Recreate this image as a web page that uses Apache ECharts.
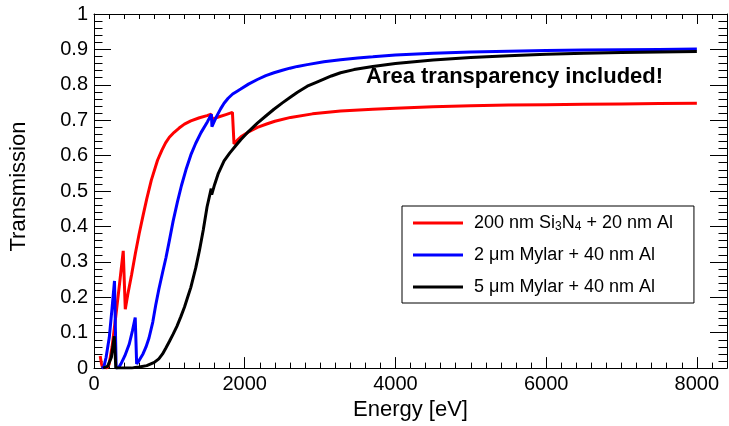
<!DOCTYPE html>
<html>
<head>
<meta charset="utf-8">
<script src="https://cdn.jsdelivr.net/npm/echarts@6/dist/echarts.min.js"></script>
<style>html,body{margin:0;padding:0;background:#fff}#c{width:729px;height:426px}</style>
</head>
<body>
<div id="c"></div>
<script>
// ---- data ----
var seriesNames = ['200 nm Si3N4 + 20 nm Al', '2 \u03bcm Mylar + 40 nm Al', '5 \u03bcm Mylar + 40 nm Al'];

var redE = [82, 100, 110, 125, 170, 200, 240, 291, 340, 388, 415, 450, 500, 550, 600, 650, 700, 760, 843, 900, 950, 1000, 1064, 1130, 1200, 1285, 1400, 1500, 1555, 1570, 1650, 1750, 1837, 1858, 1900, 1950, 2050, 2168, 2300, 2400, 2609, 2900, 3272, 3700, 4000, 4500, 5000, 5500, 6000, 6500, 7000, 7500, 8000];
var redT = [0.034, 0.012, 0.004, 0, 0, 0.01, 0.06, 0.15, 0.24, 0.331, 0.166, 0.21, 0.265, 0.325, 0.38, 0.43, 0.478, 0.53, 0.587, 0.615, 0.636, 0.652, 0.666, 0.678, 0.689, 0.698, 0.707, 0.713, 0.717, 0.703, 0.709, 0.716, 0.722, 0.633, 0.643, 0.653, 0.667, 0.68, 0.69, 0.697, 0.708, 0.718, 0.726, 0.731, 0.734, 0.738, 0.741, 0.743, 0.744, 0.745, 0.746, 0.747, 0.748];

var blueE = [100, 130, 160, 203, 240, 272, 294, 330, 358, 410, 468, 510, 547, 566, 600, 650, 689, 730, 780, 821, 860, 910, 954, 1000, 1050, 1108, 1160, 1220, 1285, 1350, 1420, 1506, 1558, 1565, 1620, 1680, 1726, 1780, 1840, 1900, 1947, 2050, 2168, 2280, 2388, 2500, 2600, 2700, 2830, 3050, 3272, 3500, 3700, 4000, 4500, 5000, 5500, 6000, 6500, 7000, 7500, 8000];
var blueT = [0, 0.003, 0.03, 0.087, 0.17, 0.246, 0, 0.002, 0.012, 0.035, 0.068, 0.105, 0.143, 0.012, 0.022, 0.04, 0.059, 0.085, 0.13, 0.18, 0.222, 0.27, 0.311, 0.36, 0.415, 0.47, 0.515, 0.56, 0.602, 0.635, 0.665, 0.696, 0.717, 0.682, 0.708, 0.732, 0.748, 0.762, 0.774, 0.782, 0.788, 0.802, 0.815, 0.826, 0.834, 0.841, 0.847, 0.852, 0.857, 0.865, 0.871, 0.876, 0.879, 0.884, 0.889, 0.893, 0.895, 0.897, 0.898, 0.899, 0.900, 0.901];

var blackE = [120, 180, 230, 269, 290, 500, 547, 600, 700, 800, 860, 910, 954, 1000, 1050, 1100, 1150, 1200, 1250, 1285, 1350, 1400, 1450, 1500, 1555, 1562, 1600, 1650, 1726, 1800, 1880, 1947, 2050, 2168, 2280, 2388, 2500, 2600, 2700, 2830, 2950, 3050, 3150, 3272, 3450, 3700, 4000, 4500, 5000, 5500, 6000, 6500, 7000, 7500, 8000];
var blackT = [0, 0.005, 0.03, 0.09, 0, 0, 0.002, 0.003, 0.007, 0.016, 0.026, 0.04, 0.057, 0.075, 0.096, 0.118, 0.144, 0.172, 0.205, 0.228, 0.283, 0.333, 0.39, 0.455, 0.507, 0.49, 0.518, 0.55, 0.585, 0.607, 0.628, 0.645, 0.668, 0.692, 0.712, 0.731, 0.749, 0.764, 0.779, 0.796, 0.807, 0.816, 0.825, 0.834, 0.843, 0.852, 0.86, 0.87, 0.877, 0.882, 0.886, 0.889, 0.891, 0.893, 0.894];

var xMin = 0, xMax = 8400, xMajor = 2000, xMinor = 200;
var yMin = 0, yMax = 1, yMajor = 0.1;

function zip(a, b) { return a.map(function (v, i) { return [v, b[i]]; }); }

var FONT = '"Liberation Sans", Arial, Helvetica, sans-serif';
var chart = echarts.init(document.getElementById('c'), null, { renderer: 'canvas' });

function xAx(pos, major, showLabel, len, showLine, name) {
  var a = {
    type: 'value', position: pos, min: xMin, max: xMax, interval: major ? xMajor : xMinor,
    axisLine: { show: showLine, onZero: false, lineStyle: { color: '#000', width: 1 } },
    axisTick: { show: true, inside: true, length: len, lineStyle: { color: '#000', width: 1 } },
    axisLabel: { show: showLabel, color: '#000', fontSize: 20, fontFamily: FONT, margin: 6, showMaxLabel: false,
      formatter: function (v) { return String(v); } },
    splitLine: { show: false }
  };
  if (name) {
    a.name = name; a.nameLocation = 'middle'; a.nameGap = 29;
    a.nameTextStyle = { color: '#000', fontSize: 22, fontFamily: FONT };
  }
  return a;
}
function yAx(pos, showLabel, name) {
  var a = {
    type: 'value', position: pos, min: yMin, max: yMax, interval: yMajor,
    axisLine: { show: true, onZero: false, lineStyle: { color: '#000', width: 1 } },
    axisTick: { show: true, inside: true, length: 17, lineStyle: { color: '#000', width: 1 } },
    minorTick: { show: true, splitNumber: 5, length: 8.5, lineStyle: { color: '#000', width: 1 } },
    axisLabel: { show: showLabel, color: '#000', fontSize: 20, fontFamily: FONT, margin: 6 },
    splitLine: { show: false }, minorSplitLine: { show: false }
  };
  if (name) {
    a.name = name; a.nameLocation = 'middle'; a.nameGap = 64; a.nameRotate = 90;
    a.nameTextStyle = { color: '#000', fontSize: 22, fontFamily: FONT, padding: [0, 0, 0, 9] };
  }
  return a;
}

var colors = ['#ff0000', '#0000ff', '#000000'];
var datas = [zip(redE, redT), zip(blueE, blueT), zip(blackE, blackT)];

chart.setOption({
  animation: false,
  backgroundColor: '#fff',
  grid: { left: 93, right: 2, top: 14, bottom: 55, containLabel: false },
  xAxis: [
    xAx('bottom', true, true, 11, true, 'Energy [eV]'),
    xAx('bottom', false, false, 5.5, false),
    xAx('top', true, false, 10, true),
    xAx('top', false, false, 5, false)
  ],
  yAxis: [
    yAx('left', true, 'Transmission'),
    yAx('right', false)
  ],
  legend: {
    orient: 'vertical', left: 402, top: 206, align: 'left',
    selectedMode: false,
    backgroundColor: '#fff', borderColor: '#000', borderWidth: 1,
    padding: [7, 21, 6, 11], itemGap: 12,
    itemWidth: 50, itemHeight: 3, icon: 'rect',
    data: seriesNames,
    formatter: function (n) { return n.replace('Si3N4', 'Si{sub|3}N{sub|4}'); },
    textStyle: {
      color: '#000', fontSize: 18, fontFamily: FONT, lineHeight: 20, padding: [0, 0, 0, 6],
      rich: { sub: { fontSize: 12, fontFamily: FONT, color: '#000', lineHeight: 12, verticalAlign: 'bottom', padding: [8, 0, 0, 0] } }
    }
  },
  graphic: [{
    type: 'text', left: 366, top: 66, silent: true,
    style: { text: 'Area transparency included!', fill: '#000', font: 'bold 22px ' + FONT }
  }],
  series: seriesNames.map(function (n, i) {
    return {
      name: n, type: 'line', xAxisIndex: 0, yAxisIndex: 0,
      data: datas[i], showSymbol: false, symbol: 'none', smooth: false,
      lineStyle: { color: colors[i], width: 3 }, itemStyle: { color: colors[i] },
      clip: true, z: 2 + i
    };
  })
});
</script>
</body>
</html>
